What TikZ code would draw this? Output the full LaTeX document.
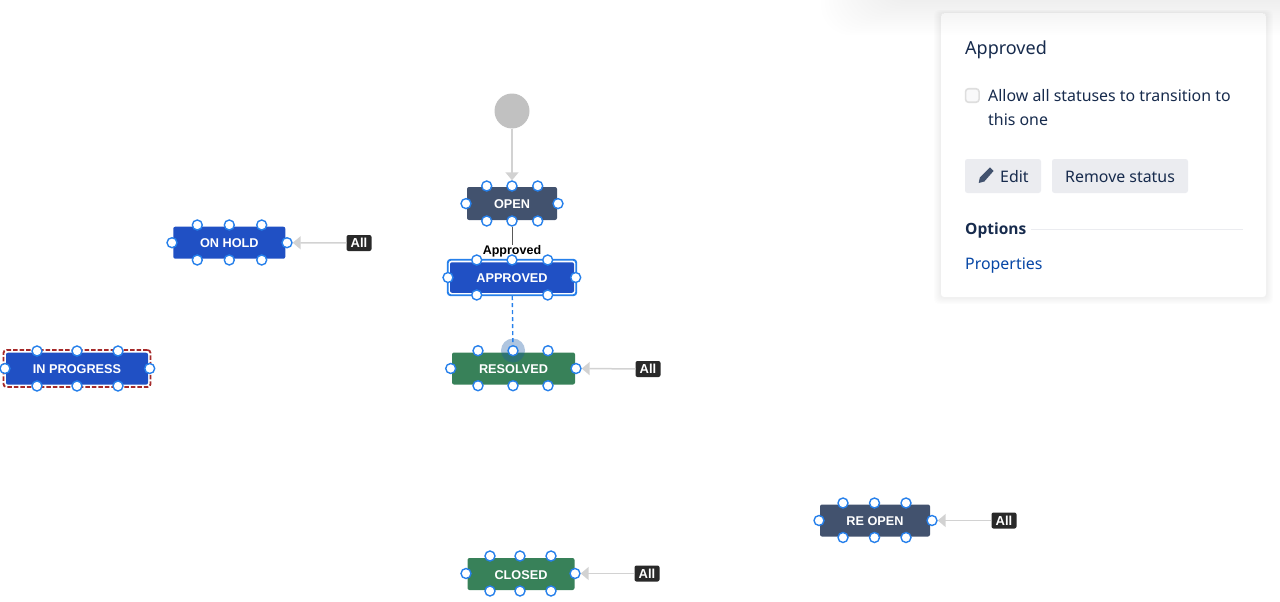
\documentclass[tikz,border=0pt]{standalone}
\usepackage{fontspec}
\setmainfont{Liberation Sans}
\newfontfamily\panelfont{Noto Sans}
\newfontfamily\panelbold{Open Sans}
\usetikzlibrary{arrows.meta}
\definecolor{navybox}{HTML}{42526E}
\definecolor{bluebox}{HTML}{2050C4}
\definecolor{greenbox}{HTML}{388159}
\definecolor{portblue}{HTML}{2680EB}
\definecolor{lightgrey}{HTML}{D2D2D2}
\definecolor{startgrey}{HTML}{C1C1C1}
\definecolor{tagdark}{HTML}{292929}
\definecolor{paneltext}{HTML}{172B4D}
\definecolor{btngrey}{HTML}{EBECF0}
\definecolor{linkblue}{HTML}{0747A6}
\definecolor{holdred}{HTML}{A52A2A}
\tikzset{
  status/.style={rectangle,rounded corners=2pt,text=white,inner sep=0pt,minimum height=32pt,text height=10.5pt,text depth=0pt,font=\fontsize{12.7}{15}\selectfont\bfseries},
  port/.style={circle,draw=portblue,fill=white,line width=1.4pt,inner sep=0pt,minimum size=10pt},
  alltag/.style={rectangle,rounded corners=2pt,fill=tagdark,text=white,inner sep=0pt,minimum width=25pt,minimum height=16pt,font=\fontsize{13}{15}\selectfont\bfseries},
  allline/.style={draw=lightgrey,line width=1.5pt,-{Triangle[length=8pt,width=13pt,fill=lightgrey]}},
  paneltxt/.style={anchor=base west,inner sep=0pt,text=paneltext,font=\panelfont\fontsize{15.9}{19}\selectfont},
  btn/.style={rectangle,rounded corners=2.5pt,fill=btngrey,inner sep=0pt,minimum height=34pt},
}
\begin{document}
\begin{tikzpicture}[x=1pt,y=-1pt]
\useasboundingbox (0,0) rectangle (1280,602);

\node[circle,fill=startgrey,inner sep=0pt,minimum size=35pt] (start) at (512,111) {};

\node[status,fill=navybox,minimum width=90pt,minimum height=33pt] (open) at (512,203.5) {OPEN};
\node[rectangle,rounded corners=3pt,draw=portblue,line width=1.9pt,fill=white,minimum width=128.5pt,minimum height=35.5pt,inner sep=0pt] (approvedframe) at (512,277.5) {};
\node[status,fill=bluebox,minimum width=124pt,minimum height=30.5pt] (approved) at (512,277.5) {APPROVED};
\node[status,fill=greenbox,minimum width=123pt] (resolved) at (513.5,368.5) {RESOLVED};
\node[status,fill=bluebox,minimum width=112pt] (onhold) at (229.3,242.7) {ON HOLD};
\node[rectangle,rounded corners=3pt,draw=holdred,dash pattern=on 4.5pt off 2pt,line width=1.8pt,minimum width=147pt,minimum height=37pt,inner sep=0pt] (progressframe) at (77,368.5) {};
\node[status,fill=bluebox,minimum width=142pt] (progress) at (77,368.7) {IN PROGRESS};
\node[status,fill=navybox,minimum width=110pt] (reopen) at (875,520.5) {RE OPEN};
\node[status,fill=greenbox,minimum width=107pt] (closed) at (521,574) {CLOSED};

\node[inner sep=0pt,font=\fontsize{12.5}{15}\selectfont\bfseries] (lblapproved) at (512,251.5) {Approved};

\node[alltag] (tagonhold) at (359,243) {All};
\node[alltag] (tagresolved) at (648,369) {All};
\node[alltag] (tagreopen) at (1004,520.5) {All};
\node[alltag] (tagclosed) at (647,573.5) {All};

\fill[portblue!70!black,opacity=.35] (513,350.5) circle (12);

\foreach \px/\py [count=\i] in {486.7/186,512/186,537.7/186,486.7/221,512/221,537.7/221,466/203.6,558/203.6}
  \node[port] (open-\i) at (\px,\py) {};
\foreach \px/\py [count=\i] in {476.7/260,512/260,547.7/260,476.7/295,547.7/295,448/277.5,575.7/277.5}
  \node[port] (approved-\i) at (\px,\py) {};
\foreach \px/\py [count=\i] in {478/350.7,513/350.7,548/350.7,478/385.7,513/385.7,548/385.7,450.7/368.5,576/368.5}
  \node[port] (resolved-\i) at (\px,\py) {};
\foreach \px/\py [count=\i] in {197.3/225,229.3/225,261.7/225,197.3/260,229.3/260,261.7/260,172/242.7,287/242.7}
  \node[port] (onhold-\i) at (\px,\py) {};
\foreach \px/\py [count=\i] in {37/351,77/351,118/351,37/386,77/386,118/386,5/368.5,149.7/368.5}
  \node[port] (progress-\i) at (\px,\py) {};
\foreach \px/\py [count=\i] in {843/503,874.5/503,906/503,843/537.5,874.5/537.5,906/537.5,819/520.5,932/520.5}
  \node[port] (reopen-\i) at (\px,\py) {};
\foreach \px/\py [count=\i] in {490/556,520/556,551/556,490/591,520/591,551/591,466/573.5,575/573.5}
  \node[port] (closed-\i) at (\px,\py) {};

\draw[allline] (start) -- (open-2);
\draw[draw=black!65,line width=1pt] (open-5) -- (lblapproved);
\draw[draw=portblue,line width=1.4pt,dash pattern=on 4pt off 3pt] (approvedframe) -- (resolved-2);
\draw[allline] (tagonhold) -- (onhold-8);
\draw[allline] (tagresolved) -- (resolved-8);
\draw[allline] (tagreopen) -- (reopen-8);
\draw[allline] (tagclosed) -- (closed-8);

\foreach \i in {1,...,8}
  \fill[black,opacity=.007,rounded corners=5pt] (941-\i*.9,13-\i*.4) rectangle (1266+\i*.9,297+\i*.9);
\node[rectangle,rounded corners=3pt,fill=white,minimum width=325pt,minimum height=284pt,inner sep=0pt] (panel) at (1103.5,155) {};

\node[paneltxt,font=\panelfont\fontsize{18}{21}\selectfont] (paneltitle) at (965,55) {Approved};
\node[rectangle,rounded corners=3pt,draw=black!13,line width=1.6pt,fill=btngrey!30,minimum size=13.5pt,inner sep=0pt] (checkbox) at (972.3,95.5) {};
\node[paneltxt] (allowone) at (988,101.5) {Allow all statuses to transition to};
\node[paneltxt] (allowtwo) at (988,125) {this one};
\node[btn,minimum width=76pt] (editbtn) at (1003,176) {};
\fill[navybox] (978.7,183) -- (979.8,177.5) -- (990,167.3) -- (993.5,171) -- (984.3,181.5) -- cycle;
\node[paneltxt] (edittxt) at (1000,182) {Edit};
\node[btn,minimum width=136pt] (removebtn) at (1120,176) {};
\node[paneltxt] (removetxt) at (1065,182) {Remove status};
\node[paneltxt,font=\panelbold\fontsize{15.5}{19}\selectfont\bfseries] (options) at (965,234) {Options};
\coordinate (ruleend) at (1243,229.5);
\draw[draw=btngrey,line width=1.4pt] (options.east |- ruleend) ++(4,0) -- (ruleend);
\node[paneltxt,text=linkblue] (properties) at (965,269) {Properties};

\foreach \i in {1,...,16}
  \fill[black,opacity=.0045,rounded corners=30pt] (885-\i*4,-50) rectangle (1340,\i*2.2);
\end{tikzpicture}
\end{document}
